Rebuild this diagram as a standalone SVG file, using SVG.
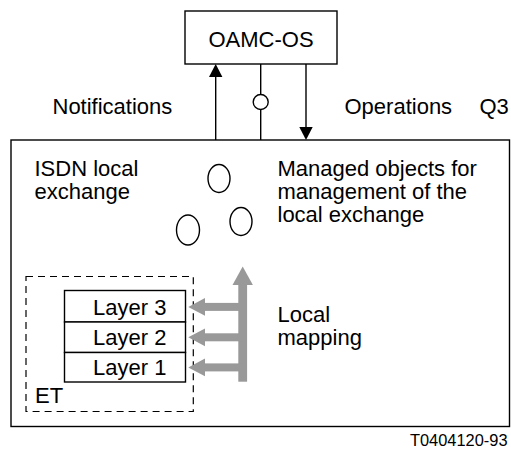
<svg xmlns="http://www.w3.org/2000/svg" width="511" height="455" viewBox="0 0 511 455">
<style>
text{font-family:"Liberation Sans",Arial,sans-serif;font-size:22px;fill:#000}
.ln{stroke:#000;stroke-width:1.4;fill:none}
.box{stroke:#000;stroke-width:1.4;fill:#fff}
.grey{fill:#999;stroke:none}
</style>
<rect width="511" height="455" fill="#fff"/>
<g id="exchange">
<rect class="box" x="11" y="140" width="498.5" height="286.5" stroke-width="1.6"/>
<text x="34.5" y="175.5">ISDN local</text>
<text x="34.5" y="198.5">exchange</text>
<text x="277.5" y="176">Managed objects for</text>
<text x="277.5" y="199">management of the</text>
<text x="277.5" y="222">local exchange</text>
</g>
<g id="oamc-os">
<rect class="box" x="185" y="11" width="152" height="53"/>
<text x="261" y="46.5" text-anchor="middle">OAMC-OS</text>
</g>
<g id="objects">
<ellipse class="ln" cx="219" cy="178.5" rx="11" ry="14"/>
<ellipse class="ln" cx="188" cy="230" rx="11.5" ry="15"/>
<ellipse class="ln" cx="241" cy="221.5" rx="11" ry="14"/>
</g>
<g id="et">
<rect x="26" y="276.5" width="167.3" height="135" fill="none" stroke="#000" stroke-width="1.2" stroke-dasharray="7 5"/>
<text x="35" y="402.5">ET</text>
</g>
<g id="layers">
<rect class="box" x="64.5" y="290.5" width="121" height="31.5"/>
<rect class="box" x="64.5" y="322" width="121" height="30.5"/>
<rect class="box" x="64.5" y="352.5" width="121" height="29.5"/>
<text x="93" y="314.5">Layer 3</text>
<text x="93" y="345">Layer 2</text>
<text x="93" y="375">Layer 1</text>
</g>
<g id="connectors">
<line class="ln" x1="215.7" y1="140" x2="215.7" y2="76"/>
<polygon points="215.7,64 209,77 222.4,77" fill="#000"/>
<line class="ln" x1="306" y1="64" x2="306" y2="128"/>
<polygon points="306,140 299.3,127 312.7,127" fill="#000"/>
<line class="ln" x1="260.7" y1="64" x2="260.7" y2="140"/>
<circle cx="260.7" cy="102" r="7.5" fill="#fff" stroke="#000" stroke-width="1.4"/>
<rect class="grey" x="238.3" y="284" width="8.8" height="97.7"/>
<polygon class="grey" points="242.7,266.5 232.5,285 252.9,285"/>
<rect class="grey" x="203" y="302.9" width="40" height="8"/>
<polygon class="grey" points="188.3,306.9 205,298 205,315.8"/>
<rect class="grey" x="203" y="333.3" width="40" height="8"/>
<polygon class="grey" points="188.3,337.3 205,328.4 205,346.2"/>
<rect class="grey" x="203" y="363.4" width="40" height="8"/>
<polygon class="grey" points="188.3,367.4 205,358.5 205,376.3"/>
</g>
<g id="labels">
<text x="52.5" y="113.5">Notifications</text>
<text x="344.5" y="113.5">Operations</text>
<text x="479.5" y="113.5">Q3</text>
<text x="277.5" y="321.5">Local</text>
<text x="277.5" y="345">mapping</text>
<text x="507.5" y="446" text-anchor="end" style="font-size:16.4px">T0404120-93</text>
</g>
</svg>
